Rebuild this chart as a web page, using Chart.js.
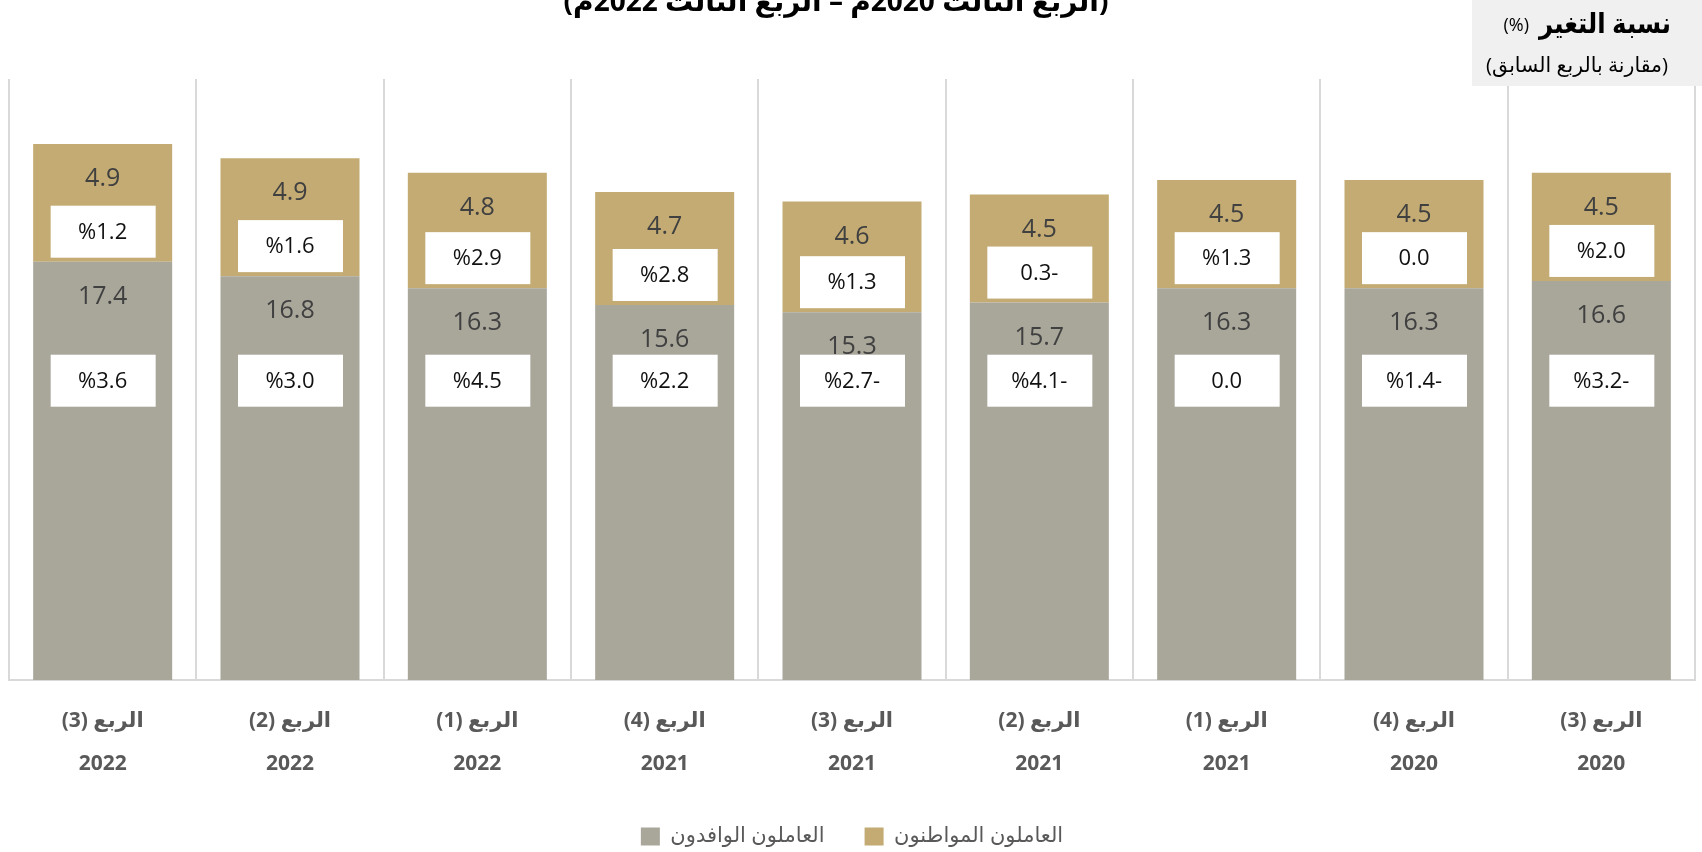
<!DOCTYPE html>
<html lang="ar">
<head>
<meta charset="utf-8">
<script src="https://cdn.jsdelivr.net/npm/chart.js@4.4.1/dist/chart.umd.min.js"></script>
<style>
  html, body { margin: 0; padding: 0; background: #fff; }
  #wrap { width: 1702px; height: 852px; position: relative; }
  canvas { direction: rtl; }
</style>
</head>
<body>
<div id="wrap"><canvas id="chart" dir="rtl"></canvas></div>
<script>
/* ─── Data (chronological, drawn right-to-left) ─── */
const quarters = ['الربع (3)', 'الربع (4)', 'الربع (1)', 'الربع (2)', 'الربع (3)', 'الربع (4)', 'الربع (1)', 'الربع (2)', 'الربع (3)'];
const years    = ['2020', '2020', '2021', '2021', '2021', '2021', '2022', '2022', '2022'];

const expatWorkers   = [16.6, 16.3, 16.3, 15.7, 15.3, 15.6, 16.3, 16.8, 17.4];
const citizenWorkers = [4.5, 4.5, 4.5, 4.5, 4.6, 4.7, 4.8, 4.9, 4.9];

// change vs previous quarter, as printed in the white boxes
const expatChange   = ['%3.2-', '%1.4-', '0.0', '%4.1-', '%2.7-', '%2.2', '%4.5', '%3.0', '%3.6'];
const citizenChange = ['%2.0', '0.0', '%1.3', '0.3-', '%1.3', '%2.8', '%2.9', '%1.6', '%1.2'];

const titleText  = '(الربع الثالث 2020م – الربع الثالث 2022م)';
const noteTitle  = 'نسبة التغير';
const noteSub    = '(مقارنة بالربع السابق)';

const Colors = {
    gold:  '#C3AB73',
    gray:  '#A9A69A',
    grid:  '#D9D9D9',
    label: '#404040',
    axis:  '#595959',
};

const FONT = "'Open Sans', 'DejaVu Sans', sans-serif";

/* ─── fit a string to a target width ─── */
function fitFont(ctx, text, weight, size, width) {
    ctx.font = `${weight} ${size}px ${FONT}`;
    const w = ctx.measureText(text).width;
    const s = size * width / w;
    ctx.font = `${weight} ${s}px ${FONT}`;
}

function drawNote(ctx, x, cy, text) {
    ctx.fillStyle = '#ffffff';
    ctx.fillRect(x - 52, cy - 26, 105, 52);
    ctx.fillStyle = '#111111';
    ctx.font = `22px ${FONT}`;
    ctx.fillText(text, x, cy + 1);
}

/* ─── values + change boxes on the bars ─── */
const barNotes = {
    id: 'barNotes',
    afterDatasetsDraw(chart) {
        const { ctx, scales: { y } } = chart;
        const gray = chart.getDatasetMeta(0).data;
        const gold = chart.getDatasetMeta(1).data;
        ctx.save();
        ctx.direction = 'ltr';
        ctx.textAlign = 'center';
        ctx.textBaseline = 'middle';
        gray.forEach((bar, i) => {
            const top = gold[i];
            ctx.fillStyle = Colors.label;
            ctx.font = `25px ${FONT}`;
            ctx.fillText(expatWorkers[i].toFixed(1), bar.x, bar.y + 35);
            ctx.fillText(citizenWorkers[i].toFixed(1), top.x, top.y + 35);

            drawNote(ctx, top.x, top.base - 30, citizenChange[i]);
            drawNote(ctx, bar.x, y.getPixelForValue(12.45), expatChange[i]);
        });
        ctx.restore();
    }
};

/* ─── cropped title + top-right note ─── */
const headers = {
    id: 'headers',
    afterDraw(chart) {
        const { ctx } = chart;
        ctx.save();
        ctx.fillStyle = '#000';
        ctx.textBaseline = 'alphabetic';

        ctx.direction = 'rtl';
        ctx.textAlign = 'center';
        fitFont(ctx, titleText, 'bold', 30, 545);
        ctx.fillText(titleText, 836, 11);

        ctx.fillStyle = '#F0F0F0';
        ctx.fillRect(1472, 0, 230, 86);

        ctx.fillStyle = '#000';
        ctx.textAlign = 'right';
        fitFont(ctx, noteTitle, 'bold', 30, 132);
        ctx.save();
        ctx.translate(1671, 33);
        ctx.scale(1, 1.15);
        ctx.fillText(noteTitle, 0, 0);
        ctx.restore();

        ctx.direction = 'ltr';
        ctx.textAlign = 'right';
        ctx.font = `18px ${FONT}`;
        ctx.fillText('(%)', 1529, 31);

        ctx.direction = 'rtl';
        ctx.textAlign = 'right';
        fitFont(ctx, noteSub, 'normal', 19, 182);
        ctx.fillText(noteSub, 1668, 72);
        ctx.restore();
    }
};

Chart.defaults.font.family = FONT;

new Chart(document.getElementById('chart'), {
    type: 'bar',
    data: {
        labels: quarters.map((q, i) => [q, years[i]]),
        datasets: [
            {
                label: 'العاملون الوافدون',
                data: expatWorkers,
                backgroundColor: Colors.gray,
            },
            {
                label: 'العاملون المواطنون',
                data: citizenWorkers,
                backgroundColor: Colors.gold,
            }
        ]
    },
    options: {
        responsive: true,
        maintainAspectRatio: false,
        animation: false,
        datasets: { bar: { categoryPercentage: 1, barPercentage: 0.742 } },
        layout: { padding: { top: 79, left: 9, right: 7, bottom: 0 } },
        plugins: {
            tooltip: { enabled: false },
            legend: {
                position: 'bottom',
                maxHeight: 66,
                labels: {
                    boxWidth: 19,
                    boxHeight: 18,
                    padding: 40,
                    color: Colors.axis,
                    font: { size: 21 }
                }
            }
        },
        scales: {
            x: {
                stacked: true,
                reverse: true,
                grid: { color: Colors.grid, lineWidth: 2, drawTicks: false, offset: true },
                border: { color: Colors.grid, width: 2 },
                ticks: {
                    color: Colors.axis,
                    font: { size: 21, weight: 'bold', lineHeight: '43px' },
                    padding: 20,
                    maxRotation: 0,
                    autoSkip: false
                },
                // ticks.padding is counted twice by Chart.js; keep the axis band tight
                afterFit(axis) { axis.height = 106; }
            },
            y: {
                stacked: true,
                display: false,
                min: 0,
                max: 25
            }
        }
    },
    plugins: [barNotes, headers]
});
</script>
</body>
</html>
